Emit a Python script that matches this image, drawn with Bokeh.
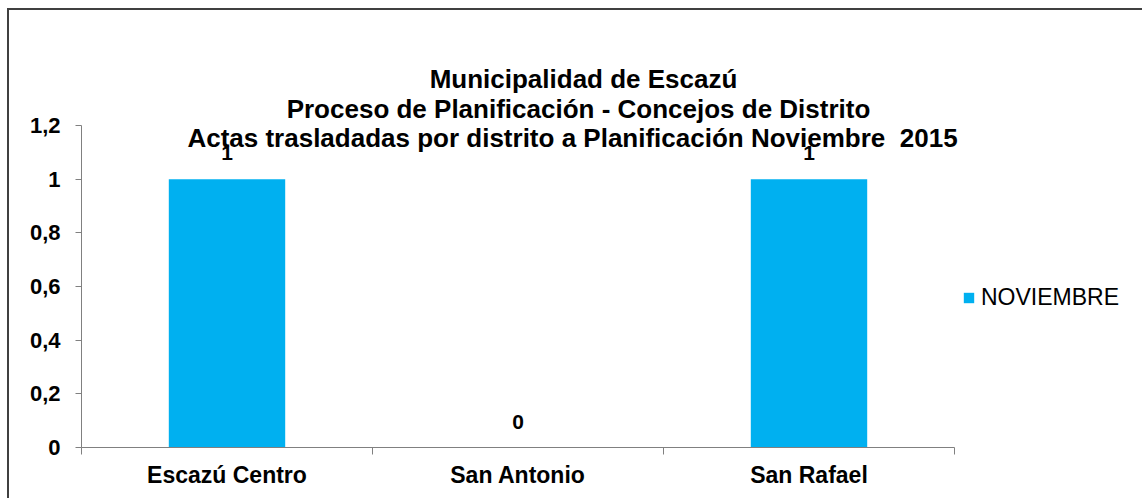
from bokeh.plotting import figure
from bokeh.models import Range1d, FixedTicker, Label, ColumnDataSource, LabelSet
from bokeh.core.properties import value
from bokeh.embed import file_html
from bokeh.resources import INLINE

categories = ["Escazú Centro", "San Antonio", "San Rafael"]
values = [1, 0, 1]
series_name = "NOVIEMBRE"
y_ticks = [0, 0.2, 0.4, 0.6, 0.8, 1.0, 1.2]
y_tick_labels = ["0", "0,2", "0,4", "0,6", "0,8", "1", "1,2"]
title_lines = [
    "Municipalidad de Escazú",
    "Proceso de Planificación - Concejos de Distrito",
    "Actas trasladadas por distrito a Planificación Noviembre\u00a0 2015",
]

FONT = "Liberation Sans"
W, H = 1135, 490
LEFT, BOTTOM = 72, 53
CAT_PX = 291.0            # pixels per category
Y_PX = 322.0 / 1.2        # pixels per y unit
OX, OY = 9, 10            # canvas offset on page (margin + border)

x_end = (W - LEFT) / CAT_PX
y_end = (H - BOTTOM) / Y_PX

p = figure(width=W, height=H, output_backend="svg", toolbar_location=None,
           x_range=Range1d(0, x_end), y_range=Range1d(0, y_end),
           min_border_left=LEFT, min_border_right=0, min_border_top=0,
           min_border_bottom=BOTTOM)
p.outline_line_color = None
p.grid.grid_line_color = None
p.background_fill_color = "white"
p.border_fill_color = "white"
p.styles = {"margin-left": "7px", "margin-top": "8px",
            "border-top": "2px solid #404040", "border-left": "2px solid #404040"}

xs = [i + 0.5 for i in range(len(categories))]
src = ColumnDataSource(dict(x=xs, top=values, lbl=[str(v) for v in values]))
p.vbar(x="x", top="top", width=0.4, source=src, fill_color="#00B0F0",
       line_color=None, legend_label=series_name)

labels = LabelSet(x="x", y="top", text="lbl", source=src, text_align="center",
                  text_baseline="alphabetic", y_offset=19,
                  text_font=value(FONT), text_font_style="bold",
                  text_font_size="21px", text_color="black")
p.add_layout(labels)

# x axis
xa = p.xaxis[0]
xa.bounds = (0, len(categories))
xa.ticker = FixedTicker(ticks=xs, minor_ticks=list(range(len(categories) + 1)))
xa.major_label_overrides = {x: c for x, c in zip(xs, categories)}
xa.major_tick_line_color = None
xa.minor_tick_line_color = "#808080"
xa.minor_tick_out = 7
xa.minor_tick_in = 0
xa.axis_line_color = "#808080"
xa.major_label_text_font = FONT
xa.major_label_text_font_style = "bold"
xa.major_label_text_font_size = "23px"
xa.major_label_text_color = "black"
xa.major_label_standoff = 7

ya = p.yaxis[0]
ya.bounds = (0, 1.2)
ya.ticker = FixedTicker(ticks=y_ticks, minor_ticks=[])
ya.major_label_overrides = {t: l for t, l in zip(y_ticks, y_tick_labels)}
ya.axis_line_color = "#808080"
ya.major_tick_line_color = "#808080"
ya.major_tick_out = 6
ya.major_tick_in = 0
ya.major_label_text_font = FONT
ya.major_label_text_font_style = "bold"
ya.major_label_text_font_size = "22px"
ya.major_label_text_color = "black"
ya.major_label_standoff = 15


def px_to_x(page_x):
    return (page_x - OX - LEFT) / CAT_PX


def px_to_y(page_y):
    return (H - BOTTOM - (page_y - OY)) / Y_PX


# title lines (page pixel centre x, baseline y)
centers = [583, 578, 572]
baselines = [78, 108, 137]
for t, cx, by in zip(title_lines, centers, baselines):
    p.add_layout(Label(x=px_to_x(cx), y=px_to_y(by), text=t,
                       text_align="center", text_baseline="alphabetic",
                       text_font=FONT, text_font_style="bold",
                       text_font_size="26px", text_color="black"))

lg = p.legend[0]
lg.location = (881, 136)
lg.border_line_color = None
lg.background_fill_alpha = 0
lg.padding = 0
lg.margin = 0
lg.glyph_width = 13
lg.glyph_height = 13
lg.label_standoff = 6
lg.label_text_font = FONT
lg.label_text_font_size = "23px"
lg.label_text_color = "black"

open("out.html", "w").write(file_html(p, INLINE))
